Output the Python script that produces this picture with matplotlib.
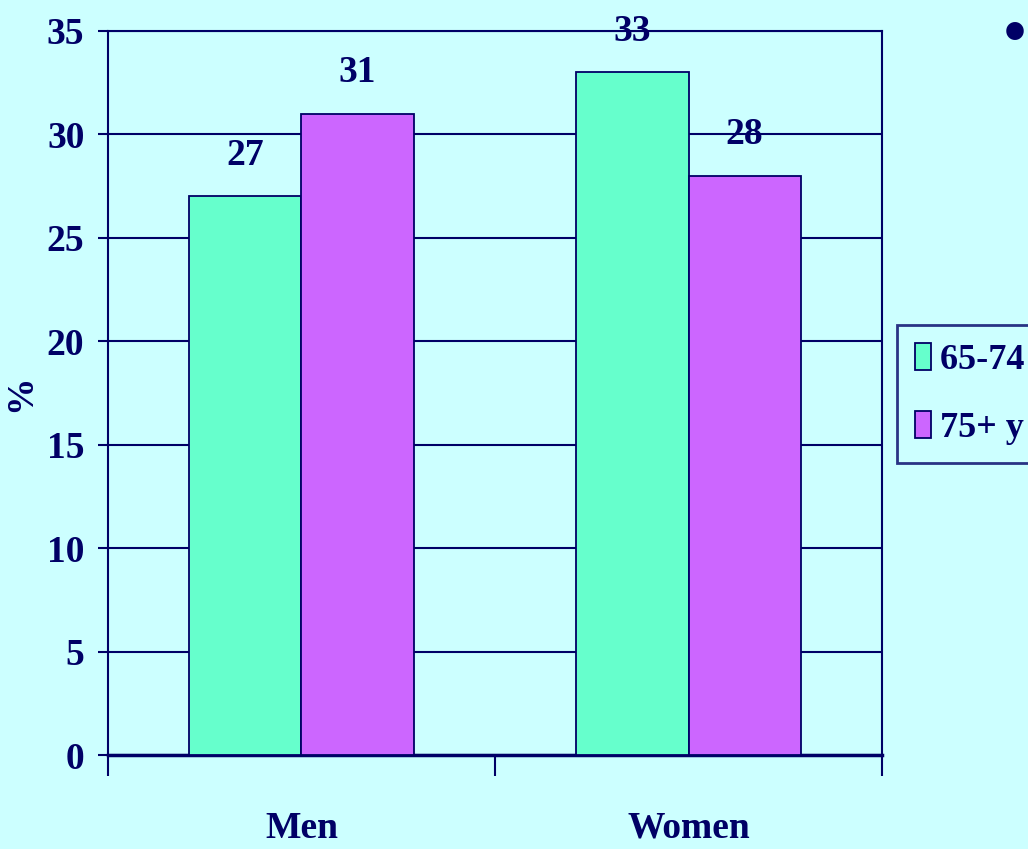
import matplotlib
matplotlib.use("Agg")
import matplotlib.pyplot as plt
import numpy as np

BG    = "#CCFFFF"
NAVY  = "#000066"
GREEN = "#66FFCC"
PURP  = "#CC66FF"

categories = ["Men", "Women"]
series     = ["65-74 y", "75+ y"]
vals_6574  = [27, 33]
vals_75    = [31, 28]
yticks     = [0, 5, 10, 15, 20, 25, 30, 35]

plt.rcParams["font.family"] = ["Liberation Serif", "DejaVu Serif"]
plt.rcParams["font.weight"] = "bold"
FS = 27

fig = plt.figure(figsize=(10.28, 8.49), dpi=100, facecolor=BG)
ax = fig.add_axes([0.105, 0.1107, 0.753, 0.8528], facecolor=BG)

x = np.arange(len(categories))
w = 0.29
b1 = ax.bar(x - w / 2, vals_6574, w, color=GREEN, edgecolor=NAVY, linewidth=1.3,
            label=series[0], zorder=3)
b2 = ax.bar(x + w / 2, vals_75, w, color=PURP, edgecolor=NAVY, linewidth=1.3,
            label=series[1], zorder=3)

for bars, vals in [(b1, vals_6574), (b2, vals_75)]:
    for rect, v in zip(bars, vals):
        ax.annotate(f"{v}", (rect.get_x() + rect.get_width() / 2, v),
                    xytext=(0, 17), textcoords="offset points",
                    ha="center", va="bottom", fontsize=FS, fontweight="bold",
                    color=NAVY, zorder=5, annotation_clip=False)

ax.set_xlim(-0.5, 1.5)
ax.set_ylim(0, 35)
ax.set_yticks(yticks)
ax.set_yticklabels([str(t) for t in yticks], fontsize=FS, fontweight="bold", color=NAVY)
ax.tick_params(axis="y", length=7, width=1.5, color=NAVY, pad=10)
ax.yaxis.grid(True, color=NAVY, linewidth=1.5, zorder=1)
ax.set_axisbelow(True)

# category labels sit well below the axis; ticks mark the group boundaries
ax.set_xticks([-0.5, 0.5, 1.5])
ax.set_xticklabels([])
ax.tick_params(axis="x", length=15, width=1.5, color=NAVY, direction="out")
ax.set_xticks(x, minor=True)
ax.set_xticklabels(categories, minor=True, fontsize=FS, fontweight="bold", color=NAVY)
ax.tick_params(axis="x", which="minor", length=0, pad=40)

for side in ["left", "right", "top"]:
    ax.spines[side].set_color(NAVY)
    ax.spines[side].set_linewidth(1.5)
ax.spines["bottom"].set_color(NAVY)
ax.spines["bottom"].set_linewidth(2.5)

ax.set_ylabel("%", fontsize=FS, fontweight="bold", color=NAVY, labelpad=6)

leg = fig.legend(handles=[b1, b2], loc="upper left",
                 bbox_to_anchor=(897 / 1028, 1 - 325 / 849),
                 fontsize=26, frameon=True, fancybox=False,
                 handlelength=0.45, handleheight=0.75, handletextpad=0.25,
                 borderpad=0.5, labelspacing=0.95, borderaxespad=0)
leg.get_frame().set_edgecolor(NAVY)
leg.get_frame().set_linewidth(2)
leg.get_frame().set_facecolor(BG)
for t in leg.get_texts():
    t.set_color(NAVY)

fig.text(1015 / 1028, 1 - 35 / 849, "\u2022", fontsize=36, color=NAVY,
         ha="center", va="center", family="DejaVu Sans")

fig.savefig("out.png", dpi=100, facecolor=BG)
